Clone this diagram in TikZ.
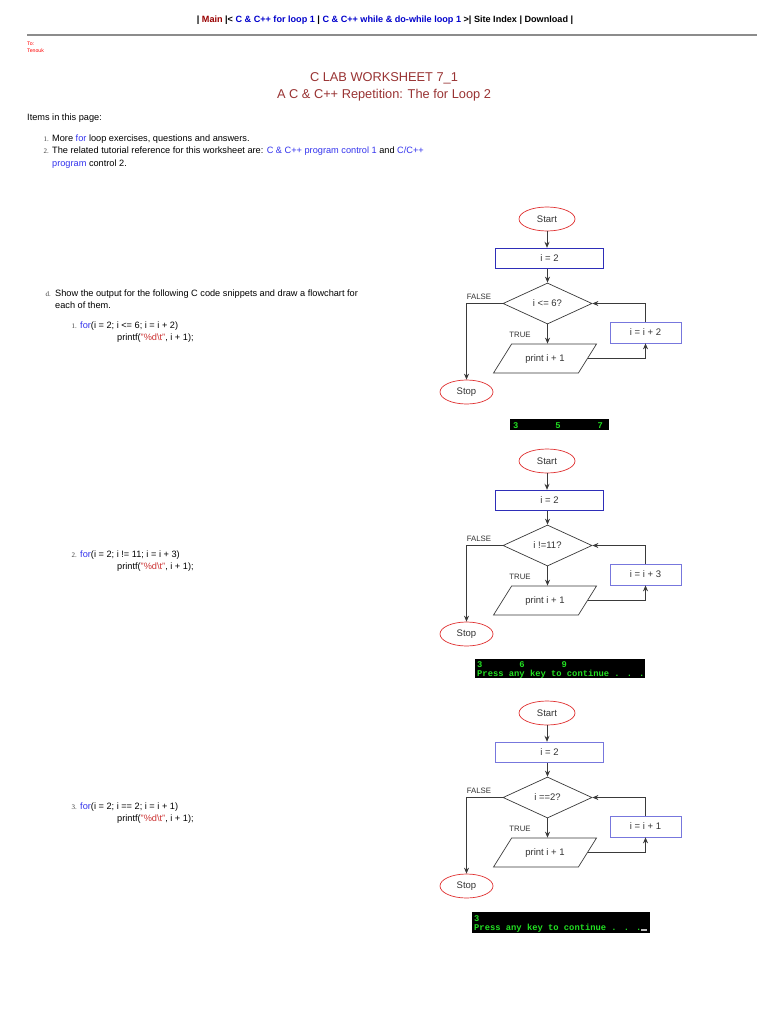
\documentclass[tikz,border=0pt]{standalone}
\usepackage{fontspec}
\setmainfont{Liberation Sans}
\newfontfamily\numfont{Liberation Serif}
\newfontfamily\consolefont{Liberation Mono}
\usetikzlibrary{shapes.geometric,arrows.meta}
\definecolor{mainred}{HTML}{990000}
\definecolor{navblue}{HTML}{0000CC}
\definecolor{titlered}{HTML}{993333}
\definecolor{linkblue}{HTML}{3333EE}
\definecolor{codered}{HTML}{CC3333}
\definecolor{termred}{HTML}{E03030}
\definecolor{boxblue}{HTML}{2E2EB8}
\definecolor{incblue}{HTML}{7777DD}
\definecolor{linegray}{HTML}{3A3A3A}
\definecolor{fctext}{HTML}{333333}
\definecolor{consolegreen}{HTML}{22E022}
\tikzset{
  txt/.style={anchor=base west, inner sep=0pt, font=\fontsize{9.2}{11}\selectfont},
  num/.style={anchor=base east, inner sep=0pt, font=\numfont\fontsize{7}{8}\selectfont, text=black!75},
  term/.style={ellipse, draw=termred, line width=0.7pt, minimum width=56pt, minimum height=24pt, inner sep=0pt, font=\fontsize{9.5}{10}\selectfont, text=fctext},
  initbox/.style={rectangle, draw=#1, line width=0.9pt, minimum width=108pt, minimum height=20.5pt, inner sep=0pt, font=\fontsize{9.5}{10}\selectfont, text=fctext},
  incbox/.style={rectangle, draw=incblue, line width=0.7pt, minimum width=71pt, minimum height=21pt, inner sep=0pt, font=\fontsize{9.5}{10}\selectfont, text=fctext},
  decbox/.style={diamond, draw=linegray, line width=0.7pt, minimum width=89pt, minimum height=41pt, inner sep=0pt, font=\fontsize{9.5}{10}\selectfont, text=fctext},
  iobox/.style={trapezium, trapezium left angle=58, trapezium right angle=122, trapezium stretches body, draw=linegray, line width=0.7pt, minimum width=103pt, minimum height=29pt, inner xsep=0pt, inner ysep=10.5pt, text height=7pt, text depth=1pt, font=\fontsize{9.5}{10}\selectfont, text=fctext},
  lbl/.style={inner sep=0pt, font=\fontsize{7.8}{8}\selectfont, text=fctext},
  flow/.style={draw=linegray, line width=0.9pt, -{Stealth[length=6pt,width=5pt]}},
  console/.style={anchor=base west, inner sep=0pt, text=consolegreen, font=\consolefont\bfseries\fontsize{8.8}{9}\selectfont},
}
\newcommand\fchart[5]{%
  \node[term] (#2start) at (547,#1) {Start};
  \node[initbox=#5] (#2init) at (549.5,{#1+39.5}) {i = 2};
  \node[decbox] (#2dec) at (547.5,{#1+84.5}) {#3};
  \node[iobox] (#2print) at (545,{#1+139.5}) {print i + 1};
  \node[incbox] (#2inc) at (645.5,{#1+113.5}) {#4};
  \node[term, minimum width=53pt] (#2stop) at (466.5,{#1+173}) {Stop};
  \node[lbl] (#2false) at (479,{#1+78}) {FALSE};
  \node[lbl] (#2true) at (520,{#1+116}) {TRUE};
  \draw[flow] (#2start.south) -- (#2start.south |- #2init.north);
  \draw[flow] (#2dec.north |- #2init.south) -- (#2dec.north);
  \draw[flow] (#2dec.west) -| (#2stop.north);
  \draw[flow] (#2dec.south) -- (#2dec.south |- #2print.north);
  \draw[flow] (#2print.east) -| (#2inc.south);
  \draw[flow] (#2inc.north) |- (#2dec.east);
}
\begin{document}
\begin{tikzpicture}[x=1pt,y=-1pt]
\useasboundingbox[fill=white] (0,0) rectangle (768,1024);

% header navigation
\node[inner sep=0pt, font=\bfseries\fontsize{9.1}{11}\selectfont] (nav) at (385,20)
  {| {\color{mainred}Main} |< {\color{navblue}C \& C++ for loop 1} | {\color{navblue}C \& C++ while \& do-while loop 1} >| Site Index | Download |};
\draw[black!45, line width=1.2pt] (27,35) -- (757,35);
\node[anchor=west, inner sep=0pt, text=red, font=\fontsize{5.2}{6}\selectfont] (to) at (27,44) {To:};
\node[anchor=west, inner sep=0pt, text=red, font=\fontsize{5.2}{6}\selectfont] (tenouk) at (27,51) {Tenouk};

% title
\node[inner sep=0pt, text=titlered, font=\fontsize{12.8}{15}\selectfont] (t1) at (384,78) {C LAB WORKSHEET 7\_1};
\node[inner sep=0pt, text=titlered, font=\fontsize{12.8}{15}\selectfont] (t2) at (384,95) {A C \& C++ Repetition: The for Loop 2};

% items
\node[txt] (items) at (27,121) {Items in this page:};
\node[num] (n1) at (49,142) {1.};
\node[txt] (l1) at (52,142) {More {\color{linkblue}for} loop exercises, questions and answers.};
\node[num] (n2) at (49,154) {2.};
\node[txt] (l2) at (52,154) {The related tutorial reference for this worksheet are: {\color{linkblue}C \& C++ program control 1} and {\color{linkblue}C/C++}};
\node[txt] (l2b) at (52,167) {{\color{linkblue}program} control 2.};

% question d
\node[num] (nd) at (51,296) {d.};
\node[txt] (qd) at (55,296) {Show the output for the following C code snippets and draw a flowchart for};
\node[txt] (qd2) at (55,308) {each of them.};

% code 1
\node[num] (c1n) at (77,328) {1.};
\node[txt] (c1a) at (80,328) {{\color{linkblue}for}(i = 2; i <= 6; i = i + 2)};
\node[txt] (c1b) at (117,340) {printf({\color{codered}"\%d\textbackslash t"}, i + 1);};
% code 2
\node[num] (c2n) at (77,557) {2.};
\node[txt] (c2a) at (80,557) {{\color{linkblue}for}(i = 2; i != 11; i = i + 3)};
\node[txt] (c2b) at (117,569) {printf({\color{codered}"\%d\textbackslash t"}, i + 1);};
% code 3
\node[num] (c3n) at (77,809) {3.};
\node[txt] (c3a) at (80,809) {{\color{linkblue}for}(i = 2; i == 2; i = i + 1)};
\node[txt] (c3b) at (117,821) {printf({\color{codered}"\%d\textbackslash t"}, i + 1);};

% flowcharts
\fchart{219}{a}{i <= 6?}{i = i + 2}{boxblue}
\fchart{461}{b}{i !=11?}{i = i + 3}{boxblue}
\fchart{713}{c}{i ==2?}{i = i + 1}{incblue}

% console outputs
\fill[black] (510,419) rectangle (609,430);
\node[console] (o1) at (513,428) {3\phantom{0000000}5\phantom{0000000}7};

\fill[black] (475,659) rectangle (645,678);
\node[console] (o2a) at (477,667) {3\phantom{0000000}6\phantom{0000000}9};
\node[console] (o2b) at (477,676) {Press any key to continue . . .};

\fill[black] (472,912) rectangle (650,933);
\node[console] (o3a) at (474,921) {3};
\node[console] (o3b) at (474,930) {Press any key to continue . . .};
\fill[black!25] (641,929) rectangle (647,931);
\end{tikzpicture}
\end{document}
